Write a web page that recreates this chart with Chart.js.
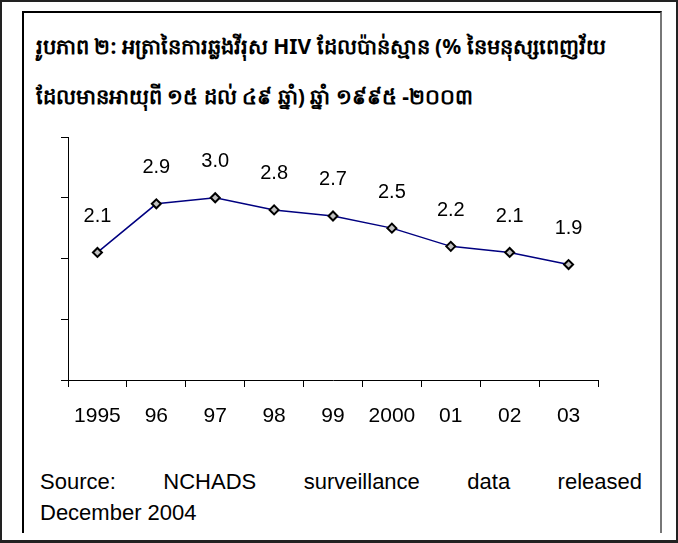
<!DOCTYPE html>
<html>
<head>
<meta charset="utf-8">
<script src="https://cdn.jsdelivr.net/npm/chart.js@4.4.1/dist/chart.umd.min.js"></script>
<style>
  html, body { margin: 0; padding: 0; background: #fff; }
  #page {
    position: relative; width: 678px; height: 543px; box-sizing: border-box;
    border: 2px solid #222; border-bottom-width: 3px; overflow: hidden;
    font-family: "Liberation Sans", Arial, sans-serif; color: #000;
  }
  #frame {
    position: absolute; left: 20px; top: 9px; width: 636px; height: 520px;
    border-left: 2px solid #000; border-top: 2px solid #000; border-right: 2px solid #777;
  }
  .title {
    position: absolute; left: 34px; font-weight: bold; font-size: 21px;
    font-family: "Noto Sans", "DejaVu Serif", serif; white-space: nowrap;
  }
  #chartBox { position: absolute; left: -2px; top: 118px; width: 678px; height: 320px; }
  #src1 {
    position: absolute; left: 38px; width: 602px; top: 467px; font-size: 22px;
    display: flex; justify-content: space-between;
  }
  #src2 { position: absolute; left: 38px; top: 498px; font-size: 22px; }
</style>
</head>
<body>
<div id="page">
  <div id="frame"></div>
  <div class="title" style="top:30px">រូបភាព ២: អត្រានៃការឆ្លងវីរុស HIV  ដែលប៉ាន់ស្មាន (% នៃមនុស្សពេញវ័យ</div>
  <div class="title" style="top:80px">ដែលមានអាយុពី ១៥ ដល់ ៤៩ ឆ្នាំ) ឆ្នាំ ១៩៩៥ -២០០៣</div>
  <div id="chartBox"><canvas id="chart" width="678" height="320"></canvas></div>
  <div id="src1"><span>Source:</span><span>NCHADS</span><span>surveillance</span><span>data</span><span>released</span></div>
  <div id="src2">December 2004</div>
</div>
<script>
const years = ['1995', '96', '97', '98', '99', '2000', '01', '02', '03'];
const prevalence = [2.1, 2.9, 3.0, 2.8, 2.7, 2.5, 2.2, 2.1, 1.9];
const yTicks = [0, 1, 2, 3, 4];

// value labels above each point
const valueLabels = {
  id: 'valueLabels',
  afterDatasetsDraw(chart) {
    const ctx = chart.ctx;
    const meta = chart.getDatasetMeta(0);
    ctx.save();
    ctx.font = '20px "Liberation Sans", Arial, sans-serif';
    ctx.fillStyle = '#000';
    ctx.textAlign = 'center';
    ctx.textBaseline = 'middle';
    meta.data.forEach((pt, i) => {
      ctx.fillText(prevalence[i].toFixed(1), pt.x, pt.y - 36);
    });
    ctx.restore();
  }
};

new Chart(document.getElementById('chart'), {
  type: 'line',
  data: {
    labels: years,
    datasets: [{
      data: prevalence,
      borderColor: '#000080',
      borderWidth: 1.5,
      pointStyle: 'rectRot',
      pointRadius: 4.5,
      pointBackgroundColor: '#c0c0c0',
      pointBorderColor: '#000',
      pointBorderWidth: 2,
      tension: 0
    }]
  },
  options: {
    responsive: false,
    animation: false,
    layout: { padding: { left: 0, right: 80, top: 17, bottom: 0 } },
    plugins: { legend: { display: false }, tooltip: { enabled: false } },
    scales: {
      x: {
        offset: true,
        grid: { offset: true, drawOnChartArea: false, tickLength: 7, color: '#000', lineWidth: 1 },
        border: { color: '#000', width: 1 },
        ticks: {
          color: '#000', padding: 17,
          font: { family: '"Liberation Sans", Arial, sans-serif', size: 21 }
        },
        afterFit(scale) { scale.height = 60; }
      },
      y: {
        min: yTicks[0],
        max: yTicks[yTicks.length - 1],
        afterBuildTicks(scale) { scale.ticks = yTicks.map(v => ({ value: v })); },
        grid: { drawOnChartArea: false, tickLength: 7, color: '#000', lineWidth: 1 },
        border: { color: '#000', width: 1 },
        ticks: { display: false },
        afterFit(scale) { scale.width = 68; }
      }
    }
  },
  plugins: [valueLabels]
});
</script>
</body>
</html>
